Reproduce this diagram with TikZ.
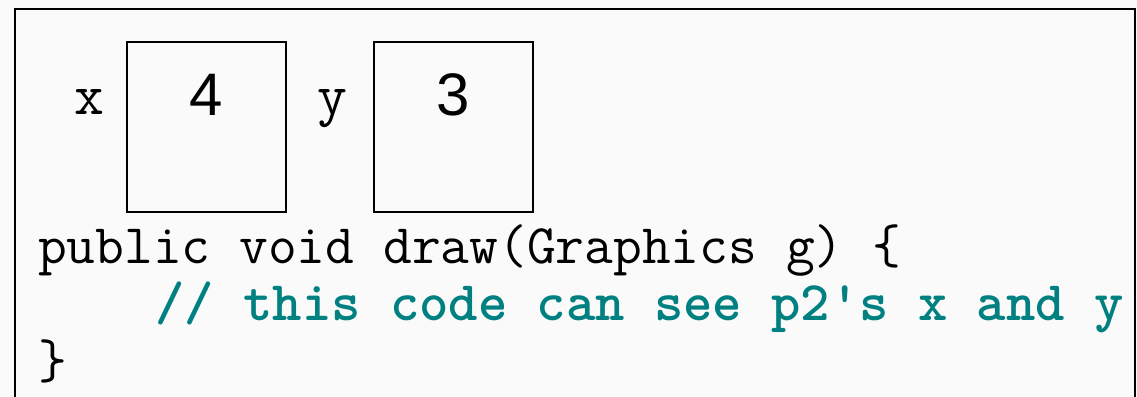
\documentclass[tikz,border=0pt]{standalone}
\usepackage{fontspec}
\usetikzlibrary{positioning}
\newfontfamily\numfont{Liberation Sans}
\definecolor{ink}{HTML}{000000}
\definecolor{cmtteal}{HTML}{008080}
\definecolor{slidebg}{HTML}{FAFAFA}
\tikzset{
  every node/.style={inner sep=0pt, outer sep=0pt},
  cell/.style={draw=ink, line width=1.5pt, minimum width=119pt, minimum height=127.5pt},
  cellval/.style={font=\numfont\fontsize{45}{54}\selectfont, text=ink, anchor=base},
  varname/.style={font=\ttfamily\fontsize{43.5}{52}\selectfont, text=ink, anchor=base},
  codeline/.style={font=\ttfamily\fontsize{41.9}{50}\selectfont, text=ink, anchor=base west},
  cmtline/.style={codeline, font=\ttfamily\bfseries\fontsize{41.9}{50}\selectfont, text=cmtteal},
  frame/.style={draw=ink, line width=1.5pt},
}

\begin{document}
\begin{tikzpicture}[x=0.75pt, y=-0.75pt]

\fill[slidebg] (0,0) rectangle (1137,396);
\useasboundingbox (0,0) rectangle (1137,396);
\clip (0,0) rectangle (1137,396);

% slide frame, open at the bottom
\draw[frame] (15,420) -- (15,9) -- (1135,9) -- (1135,420);

% the two fields
\node[cell] (xbox) at (206.5,127) {};
\node[cell, right=66pt of xbox] (ybox) {};
\node[varname] (xname) at (89.5,114) {x};
\node[varname] (yname) at (332.5,114) {y};
\node[cellval] (xval) at (xbox.center |- 0,115) {4};
\node[cellval] (yval) at (ybox.center |- 0,115) {3};

% the method
\node[codeline] (sig) at (38,263) {public void draw(Graphics g) \{};
\node[cmtline] (cmt) at (155.5,320) {// this code can see p2's x and y};
\node[codeline] (close) at (38,378) {\}};

\end{tikzpicture}
\end{document}
